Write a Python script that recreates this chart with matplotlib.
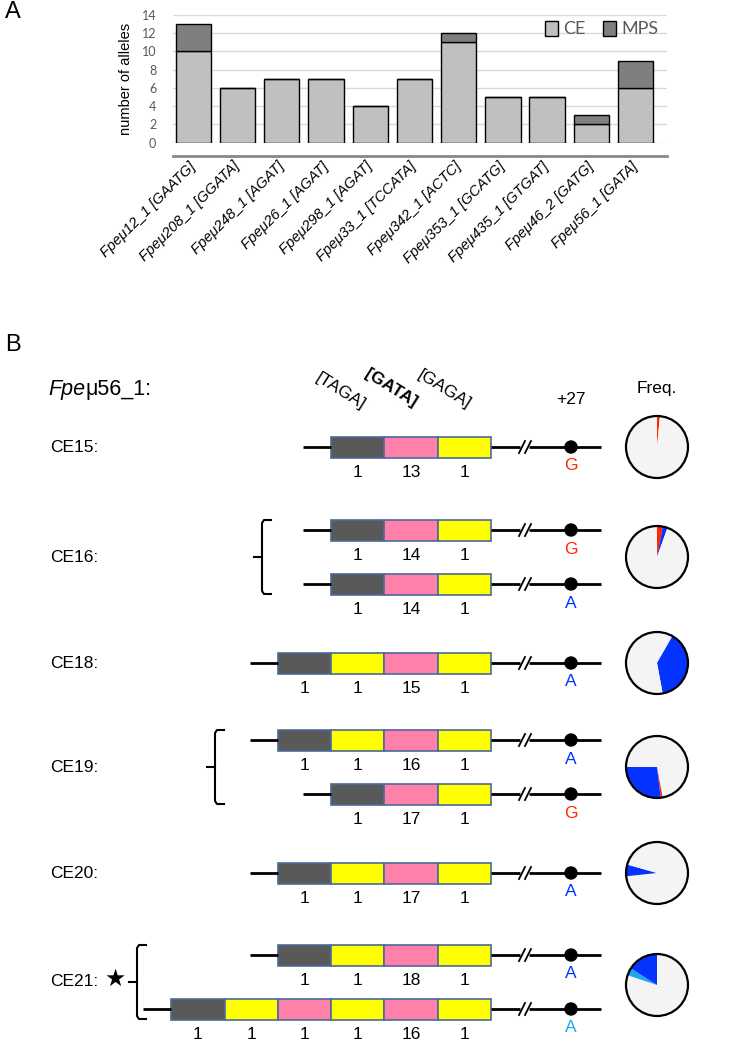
import matplotlib
matplotlib.use("Agg")
import matplotlib.pyplot as plt
from matplotlib.patches import Rectangle, Circle

# ---- panel A data
loci = ["Fpeμ12_1 [GAATG]", "Fpeμ208_1 [GGATA]", "Fpeμ248_1 [AGAT]", "Fpeμ26_1 [AGAT]",
        "Fpeμ298_1 [AGAT]", "Fpeμ33_1 [TCCATA]", "Fpeμ342_1 [ACTC]", "Fpeμ353_1 [GCATG]",
        "Fpeμ435_1 [GTGAT]", "Fpeμ46_2 [GATG]", "Fpeμ56_1 [GATA]"]
ce_alleles = [10, 6, 7, 7, 4, 7, 11, 5, 5, 2, 6]
mps_alleles = [3, 0, 0, 0, 0, 0, 1, 0, 0, 1, 3]

# ---- panel B data
row_labels = ["CE15:", "CE16:", "CE18:", "CE19:", "CE20:", "CE21:"]
strand_row = [0, 1, 1, 2, 3, 3, 4, 5, 5]
strand_motifs = [
    ["TAGA", "GATA", "GAGA"],
    ["TAGA", "GATA", "GAGA"],
    ["TAGA", "GATA", "GAGA"],
    ["TAGA", "GAGA", "GATA", "GAGA"],
    ["TAGA", "GAGA", "GATA", "GAGA"],
    ["TAGA", "GATA", "GAGA"],
    ["TAGA", "GAGA", "GATA", "GAGA"],
    ["TAGA", "GAGA", "GATA", "GAGA"],
    ["TAGA", "GAGA", "GATA", "GAGA", "GATA", "GAGA"],
]
strand_repeats = [[1, 13, 1], [1, 14, 1], [1, 14, 1], [1, 1, 15, 1], [1, 1, 16, 1],
                  [1, 17, 1], [1, 1, 17, 1], [1, 1, 18, 1], [1, 1, 1, 1, 16, 1]]
snp_base = ["G", "G", "A", "A", "A", "G", "A", "A", "A"]
snp_color = ["#ff2600", "#ff2600", "#0433ff", "#0433ff", "#0433ff", "#ff2600",
             "#0433ff", "#0433ff", "#1ea7ef"]
# pie fractions, clockwise from 12 o'clock
pie_fracs = [[0.015, 0.985], [0.03, 0.025, 0.945], [0.083, 0.3875, 0.5295],
             [0.472, 0.01, 0.27, 0.25], [0.733, 0.061, 0.206], [0.801, 0.039, 0.16]]
pie_colors = [["#ff2600", "#f4f4f4"], ["#ff2600", "#0433ff", "#f4f4f4"],
              ["#f4f4f4", "#0433ff", "#f4f4f4"], ["#f4f4f4", "#ff2600", "#0433ff", "#f4f4f4"],
              ["#f4f4f4", "#0433ff", "#f4f4f4"], ["#f4f4f4", "#1ea7ef", "#0433ff"]]

motif_color = {"TAGA": "#595959", "GATA": "#ff80a8", "GAGA": "#ffff00"}

W, H = 738, 1041
fig = plt.figure(figsize=(W / 100, H / 100), dpi=100)
plt.rcParams['font.family'] = ['Liberation Sans', 'DejaVu Sans']

# ================= panel B (pixel coordinates) =================
ax = fig.add_axes([0, 0, 1, 1])
ax.set_xlim(0, W)
ax.set_ylim(H, 0)
ax.axis("off")
ax.patch.set_alpha(0)

row_y = [447, 557, 663, 767, 873, 982]
pie_y = [447, 557, 663, 767, 873, 985]
seg_w, box_h = 53.3, 21
box_end, line_end, dot_x, brk_x = 491, 601, 571, 524
fs = 12.5

ax.text(5, 345, "B", fontsize=17, va="center")
t1 = ax.text(48, 390, "Fpe", fontsize=15.5, style="italic", va="center")
ax.annotate("μ56_1:", xy=(1, 0.5), xycoords=t1, va="center", fontsize=15.5)
for s, (x, y, w) in zip(["[TAGA]", "[GATA]", "[GAGA]"],
                        [(340, 391, "normal"), (391, 388, "bold"), (444, 390, "normal")]):
    ax.text(x, y, s, fontsize=fs, rotation=-32, ha="center", va="center", weight=w,
            rotation_mode="anchor")
ax.text(571, 399, "+27", fontsize=fs, ha="center", va="center")
ax.text(657, 388, "Freq.", fontsize=fs, ha="center", va="center")

for lab, y in zip(row_labels, row_y):
    ax.text(50, y, lab, fontsize=fs, va="center")
ax.text(115, 979, "★", fontsize=17, ha="center", va="center", family=["DejaVu Sans"])

# strand y positions: single rows centred, paired rows split
strand_y = []
for i, r in enumerate(strand_row):
    n = strand_row.count(r)
    k = strand_row[:i].count(r)
    strand_y.append(row_y[r] + (0 if n == 1 else (-27 if k == 0 else 27)))

for motifs, reps, base, col, y in zip(strand_motifs, strand_repeats, snp_base, snp_color, strand_y):
    x0 = box_end - seg_w * len(motifs)
    ax.plot([x0 - 28, x0], [y, y], color="k", lw=2, solid_capstyle="butt")
    ax.plot([box_end, brk_x - 4], [y, y], color="k", lw=2, solid_capstyle="butt")
    ax.plot([brk_x + 5, line_end], [y, y], color="k", lw=2, solid_capstyle="butt")
    for bx in (brk_x - 2, brk_x + 4):
        ax.plot([bx - 3, bx + 3], [y + 6, y - 6], color="k", lw=1.3)
    for j, (m, n) in enumerate(zip(motifs, reps)):
        ax.add_patch(Rectangle((x0 + j * seg_w, y - box_h / 2), seg_w, box_h,
                               facecolor=motif_color[m], edgecolor="#4a6a9c", lw=1.2))
        ax.text(x0 + (j + 0.5) * seg_w, y + 25.5, str(n), fontsize=fs, ha="center", va="center")
    ax.add_patch(Circle((dot_x, y), 6, color="k", zorder=4))
    ax.text(dot_x, y + 19, base, color=col, fontsize=fs, ha="center", va="center")

# braces
for r, bx in [(1, 262), (3, 215), (5, 137)]:
    ys = [y for y, rr in zip(strand_y, strand_row) if rr == r]
    top, bot = ys[0] - 10, ys[1] + 10
    ax.plot([bx + 9, bx + 2, bx, bx, bx + 2, bx + 9],
            [top, top, top + 3, bot - 3, bot, bot], color="k", lw=1.5)
    ax.plot([bx - 8, bx], [row_y[r], row_y[r]], color="k", lw=1.5)

# pies
R = 31
for fr, cols, y in zip(pie_fracs, pie_colors, pie_y):
    pad = 3
    pa = fig.add_axes([(657 - R - pad) / W, 1 - (y + R + pad) / H, (2 * R + 2 * pad) / W,
                       (2 * R + 2 * pad) / H])
    pa.pie(fr, colors=cols, startangle=90, counterclock=False, radius=1,
           wedgeprops=dict(linewidth=0))
    pa.add_patch(Circle((0, 0), 1, fill=False, edgecolor="k", lw=1.6))
    lim = (R + pad) / R
    pa.set_xlim(-lim, lim)
    pa.set_ylim(-lim, lim)

# ================= panel A =================
axA = fig.add_axes([173 / W, 1 - 142.7 / H, 494 / W, 127.7 / H])
# spine position first: set_position resets the ticks
for sp in ["left", "right", "top"]:
    axA.spines[sp].set_visible(False)
axA.spines["bottom"].set_position(("outward", 9.4))
axA.spines["bottom"].set_color("#888888")
axA.spines["bottom"].set_linewidth(2)

x = range(len(loci))
axA.bar(x, ce_alleles, width=0.8, color="#c0c0c0", edgecolor="k", lw=1, label="CE", zorder=3)
axA.bar(x, mps_alleles, width=0.8, bottom=ce_alleles, color="#7f7f7f", edgecolor="k", lw=1,
        label="MPS", zorder=3)
axA.set_xlim(-0.46, 10.71)
axA.set_ylim(0, 14)
axA.set_yticks(range(0, 15, 2))
axA.yaxis.grid(True, color="#d9d9d9", lw=1)
axA.tick_params(axis="y", length=0, pad=12, labelsize=9, labelcolor="#595959")
axA.tick_params(axis="x", length=0, pad=6)
for lbl in axA.get_yticklabels():
    lbl.set_family("Lato")
axA.set_xticks(list(x))
axA.set_xticklabels(loci, fontsize=10.5, style="italic", rotation=45, ha="right",
                    va="center", rotation_mode="anchor")
axA.set_ylabel("number of alleles", fontsize=10.5, labelpad=6)
axA.legend(loc="center left", bbox_to_anchor=(0.72, 0.89), ncol=2, frameon=False,
           handlelength=0.7, handleheight=0.9, handletextpad=0.3, columnspacing=1.0,
           prop={"family": "Lato", "size": 13}, labelcolor="#595959")
fig.text(5 / W, 1 - 12 / H, "A", fontsize=17, va="center")

fig.savefig("out.png", dpi=100)
